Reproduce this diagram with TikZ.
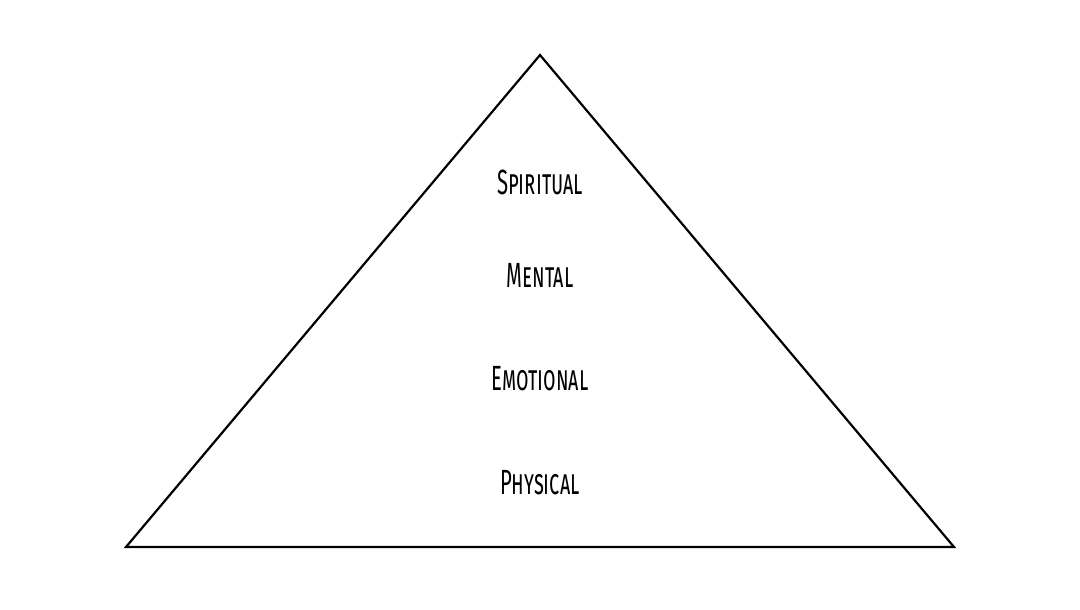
\documentclass[tikz,border=0pt]{standalone}
\usepackage{fontspec}
\setsansfont{Fira Sans}[Letters=SmallCaps]
\newcommand{\layertext}[1]{\scalebox{0.58}[1]{\sffamily\fontsize{35}{40}\selectfont #1}}

\begin{document}
\begin{tikzpicture}[x=1pt,y=-1pt]
        \tikzstyle{layer}=[inner sep=0pt]
        \useasboundingbox (0,0) rectangle (1080,610);
        \coordinate (apex) at (540,55);
        \coordinate (left) at (126,547);
        \coordinate (right) at (954,547);
        \draw[line width=2.2pt,line join=miter] (apex) -- (left) -- (right) -- cycle;
        \node[layer] (spiritual) at (540,182) {\layertext{Spiritual}};
        \node[layer] (mental) at (540,275) {\layertext{Mental}};
        \node[layer] (emotional) at (540,379) {\layertext{Emotional}};
        \node[layer] (physical) at (540,483) {\layertext{Physical}};
\end{tikzpicture}
\end{document}
